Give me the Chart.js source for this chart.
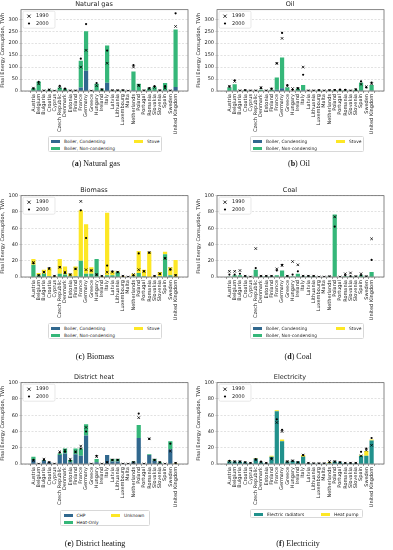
<!DOCTYPE html>
<html>
<head>
<meta charset="utf-8">
<script src="https://cdn.jsdelivr.net/npm/chart.js@4.4.0/dist/chart.umd.min.js"></script>
<style>
body { margin: 0; background: #fff; width: 393px; height: 550px; position: relative; overflow: hidden; font-family: "DejaVu Sans", sans-serif; }
.panel { position: absolute; width: 196px; height: 140px; }
.leg { position: absolute; border: 0.6px solid #d8d8d8; border-radius: 1.5px; background: #fff; box-sizing: border-box; }
.leg .sw { position: absolute; width: 9px; height: 3px; }
.leg .tx { position: absolute; font-size: 4.4px; line-height: 5px; color: #222; white-space: nowrap; }
.cap { position: absolute; font-family: "Liberation Serif", serif; font-size: 8px; color: #111; transform: translate(-50%, -50%); white-space: nowrap; }
</style>
</head>
<body>
<script>
const countries = ['Austria', 'Belgium', 'Bulgaria', 'Croatia', 'Cyprus', 'Czech Republic', 'Denmark', 'Estonia',
  'Finland', 'France', 'Germany', 'Greece', 'Hungary', 'Ireland', 'Italy', 'Latvia', 'Lithuania', 'Luxembourg',
  'Malta', 'Netherlands', 'Poland', 'Portugal', 'Romania', 'Slovakia', 'Slovenia', 'Spain', 'Sweden', 'United Kingdom'];

// Natural gas
const gasCond    = [1, 3, 0, 0, 0, 1, 1, 0, 0, 15, 85, 0, 2, 0, 35, 0, 0, 1, 0, 3, 1, 0, 0, 1, 0, 2, 0, 17];
const gasNonCond = [11, 37, 1, 5, 0, 14, 7, 1, 1, 112, 165, 1, 28, 7, 155, 2, 2, 2, 0, 79, 29, 2, 12, 17, 2, 31, 1, 240];
const gasStove   = [0, 0, 0, 0, 0, 0, 0, 0, 0, 0, 0, 0, 0, 0, 0, 0, 0, 0, 0, 0, 0, 0, 0, 0, 0, 0, 0, 0];
const gas1990    = [12, 30, 1, 5, 0, 15, 6, 1, 1, 100, 170, 0, 22, 5, 116, 2, 2, 2, 0, 100, 22, 1, 10, 15, 2, 12, 1, 270];
const gas2000    = [10, 38, 1, 5, 0, 22, 10, 1, 1, 135, 280, 0, 33, 7, 169, 2, 2, 3, 0, 108, 25, 2, 12, 20, 2, 20, 1, 325];

// Oil
const oilCond    = [1, 2, 0, 0, 0, 0, 0, 0, 0, 5, 12, 1, 0, 0, 3, 0, 0, 0, 0, 0, 0, 0, 0, 0, 0, 2, 0, 2];
const oilNonCond = [14, 26, 1, 3, 1, 1, 5, 1, 5, 51, 128, 14, 1, 10, 22, 1, 1, 3, 1, 2, 3, 3, 3, 1, 5, 33, 1, 23];
const oilStove   = [0, 0, 0, 0, 0, 0, 0, 0, 0, 0, 0, 0, 0, 0, 0, 0, 0, 0, 0, 0, 0, 0, 0, 0, 0, 0, 0, 0];
const oil1990    = [20, 40, 1, 3, 1, 1, 15, 1, 8, 115, 220, 20, 10, 10, 100, 1, 1, 3, 1, 2, 3, 3, 3, 1, 5, 28, 18, 30];
const oil2000    = [18, 45, 1, 3, 1, 1, 12, 1, 10, 116, 243, 25, 5, 12, 68, 1, 1, 3, 1, 3, 4, 6, 5, 1, 7, 40, 15, 35];

// Biomass
const bioCond    = [0, 0, 0, 0, 0, 0, 0, 0, 0, 0, 0, 0, 0, 0, 0, 0, 0, 0, 0, 0, 0, 0, 0, 0, 0, 0, 0, 0];
const bioNonCond = [15, 2, 4, 1, 0, 4, 3, 1, 1, 20, 4, 4, 22, 0, 2, 2, 6, 0, 0, 1, 5, 1, 0, 0, 1, 28, 2, 0];
const bioStove   = [7, 3, 5, 10, 1, 18, 10, 3, 12, 62, 61, 8, 0, 1, 77, 5, 1, 1, 0, 3, 27, 8, 31, 1, 5, 3, 10, 21];
const bio1990    = [18, 2, 6, 10, 1, 12, 6, 3, 10, 93, 9, 8, 3, 1, 6, 6, 6, 1, 0, 3, 9, 7, 30, 1, 4, 23, 10, 2];
const bio2000    = [17, 2, 6, 11, 1, 12, 5, 3, 10, 82, 48, 8, 3, 1, 14, 7, 6, 1, 0, 2, 29, 7, 30, 1, 4, 23, 9, 2];

// Coal
const coalCond    = [0, 0, 0, 0, 0, 0, 0, 0, 0, 0, 0, 0, 0, 0, 0, 0, 0, 0, 0, 0, 0, 0, 0, 0, 0, 0, 0, 0];
const coalNonCond = [0.5, 2, 2, 1, 0, 9, 1, 1, 1, 2, 8, 1, 1, 4, 1, 1, 1, 0.3, 0, 0.5, 77, 0.3, 1, 1, 0.5, 2, 0.5, 6];
const coalStove   = [0, 0, 0, 0, 0, 0, 0, 0, 0, 0, 0, 0, 0, 0, 0, 0, 0, 0, 0, 0, 0, 0, 0, 0, 0, 0, 0, 0];
const coal1990    = [7, 7, 8, 1, 0, 35, 1, 1, 1, 10, 14, 1, 19, 15, 1, 1, 1, 0, 0, 0.5, 74, 0, 4, 5, 0.5, 4, 0.5, 47];
const coal2000    = [3, 3, 4, 1, 0, 11, 1, 1, 1, 8, 15, 1, 3, 7, 1, 1, 1, 0, 0, 0.5, 62, 0, 2, 1, 0.5, 2, 0.5, 21];

// District heat
const dhChp      = [5, 0.3, 4, 2, 0, 11, 13, 2, 12, 10, 35, 0.5, 2, 0, 11, 3, 3, 0.5, 0, 2, 32, 0.5, 11, 4, 1, 0, 18, 0];
const dhHeatOnly = [4, 0, 1, 0, 0, 2, 6, 3, 7, 9, 14, 0, 4, 0, 0, 3, 3, 0, 0, 1, 16, 0, 1, 2, 1, 0, 10, 0];
const dhUnknown  = [0, 0, 0, 0, 0, 0, 0, 0, 0, 0, 0, 0, 0, 0, 0, 0, 0, 0, 0, 0, 0, 0, 0, 0, 0, 0, 0, 1];
const dh1990     = [4, 0, 6, 2, 0, 15, 17, 6, 15, 22, 45, 0, 9, 0, 2, 5, 5, 0, 0, 2, 57, 0, 31, 5, 2, 0, 16, 1];
const dh2000     = [5, 0, 5, 2, 0, 14, 15, 4, 15, 19, 40, 0, 10, 0, 2, 5, 5, 0, 0, 2, 62, 0, 31, 5, 2, 0, 25, 1];

// Electricity
const elRad  = [3.5, 3, 3, 2, 1, 6.5, 2, 1, 9, 65, 28, 3, 4, 3, 9, 1, 0.5, 0.5, 0.5, 1, 3, 2, 1, 1, 1, 10, 10, 29];
const elHp   = [0.5, 0, 0, 0, 0, 0.5, 0.3, 0, 1, 1, 2, 0.5, 0, 0, 2, 0, 0, 0, 0, 1, 0, 0, 0, 0, 0, 1, 6, 1];
const el1990 = [3, 3, 3, 2, 1, 5, 2, 1, 6, 51, 40, 3, 4, 2, 11, 1, 0.5, 0.5, 0.5, 3, 3, 2, 1, 1, 1, 10, 17, 23];
const el2000 = [4, 3, 3, 2, 1, 6, 3, 1, 7, 55, 42, 3, 4, 2, 11, 1, 0.5, 0.5, 0.5, 2, 3, 2, 1, 1, 1, 15, 19, 32];

const BLUE = '#31688e', GREEN = '#35b779', YELLOW = '#fde725', TEAL = '#21918c';
const boilerSeries = ['Boiler, Condensing', 'Boiler, Non-condensing', 'Stove'];

Chart.defaults.font.family = '"DejaVu Sans", sans-serif';
Chart.defaults.color = '#222';

// box around the plot, like matplotlib spines
const framePlugin = {
  id: 'frame',
  afterDatasetsDraw(chart) {
    const { ctx, chartArea: a } = chart;
    ctx.save();
    ctx.strokeStyle = '#555';
    ctx.lineWidth = 0.7;
    ctx.strokeRect(a.left, a.top, a.right - a.left, a.bottom - a.top);
    ctx.restore();
  }
};

// in-plot legend for the 1990 / 2000 markers
const markerLegend = {
  id: 'markerLegend',
  afterDraw(chart) {
    const { ctx, chartArea: a } = chart;
    const x = a.left + 2, y = a.top + 1.5;
    ctx.save();
    ctx.fillStyle = 'rgba(255,255,255,0.9)';
    ctx.strokeStyle = '#d8d8d8';
    ctx.lineWidth = 0.6;
    ctx.beginPath();
    ctx.roundRect(x, y, 32, 17, 1.5);
    ctx.fill();
    ctx.stroke();
    ctx.strokeStyle = '#000';
    ctx.lineWidth = 0.8;
    const cx = x + 6, r = 1.6;
    ctx.beginPath();
    ctx.moveTo(cx - r, y + 5 - r); ctx.lineTo(cx + r, y + 5 + r);
    ctx.moveTo(cx + r, y + 5 - r); ctx.lineTo(cx - r, y + 5 + r);
    ctx.stroke();
    ctx.fillStyle = '#000';
    ctx.beginPath();
    ctx.arc(cx, y + 12.3, 1.1, 0, 2 * Math.PI);
    ctx.fill();
    ctx.font = '5px "DejaVu Sans"';
    ctx.fillStyle = '#222';
    ctx.textBaseline = 'middle';
    ctx.fillText('1990', x + 13, y + 5);
    ctx.fillText('2000', x + 13, y + 12.3);
    ctx.restore();
  }
};

function toXY(arr) {
  return arr.map((v, i) => ({ x: i, y: v }));
}

function makePanel(left, top, title, yMax, yStep, bars, m1990, m2000) {
  const div = document.createElement('div');
  div.className = 'panel';
  div.style.left = left + 'px';
  div.style.top = top + 'px';
  const canvas = document.createElement('canvas');
  canvas.width = 196;
  canvas.height = 140;
  div.appendChild(canvas);
  document.body.appendChild(div);

  const datasets = bars.map(b => ({
    type: 'bar',
    label: b.label,
    data: toXY(b.data),
    backgroundColor: b.color,
    stack: 'bars',
    order: 2,
    barPercentage: 0.8,
    categoryPercentage: 1
  }));
  datasets.push({
    type: 'line', label: '1990', data: toXY(m1990), showLine: false, stack: 'm1990', order: 0,
    pointStyle: 'crossRot', pointRadius: 1.8, borderColor: '#000', borderWidth: 0.8, backgroundColor: '#000'
  });
  datasets.push({
    type: 'line', label: '2000', data: toXY(m2000), showLine: false, stack: 'm2000', order: 0,
    pointStyle: 'circle', pointRadius: 1.1, borderWidth: 0, backgroundColor: '#000'
  });

  new Chart(canvas, {
    data: { datasets },
    plugins: [framePlugin, markerLegend],
    options: {
      responsive: false,
      animation: false,
      layout: { padding: { left: 0, right: 8, top: 0, bottom: 0 } },
      scales: {
        x: {
          type: 'linear',
          min: -1.79,
          max: 28.79,
          stacked: true,
          afterBuildTicks: s => { s.ticks = countries.map((c, i) => ({ value: i })); },
          afterFit: s => { s.height = 49; },
          grid: { drawOnChartArea: false, drawTicks: true, tickLength: 2, color: '#555', lineWidth: 0.6 },
          border: { display: false },
          ticks: {
            autoSkip: false, minRotation: 90, maxRotation: 90, padding: 1,
            font: { size: 5 },
            callback: v => countries[v]
          }
        },
        y: {
          min: 0,
          max: yMax,
          stacked: true,
          afterFit: s => { s.width = 21; },
          grid: { color: '#cfcfcf', lineWidth: 0.6, drawTicks: true, tickLength: 2 },
          border: { display: false, dash: [2, 1.5] },
          ticks: { stepSize: yStep, includeBounds: false, padding: 1, font: { size: 5 } },
          title: { display: true, text: 'Final Energy Consuption, TWh', font: { size: 5 }, padding: { top: 0, bottom: 1 } }
        }
      },
      plugins: {
        legend: { display: false },
        tooltip: { enabled: false },
        title: { display: true, text: title, font: { size: 6.5, weight: 'normal' }, color: '#222', padding: { top: 0.4, bottom: 1.5 } }
      }
    }
  });
}

function makeLegend(left, top, w, h, items) {
  const box = document.createElement('div');
  box.className = 'leg';
  Object.assign(box.style, { left: left + 'px', top: top + 'px', width: w + 'px', height: h + 'px' });
  items.forEach(([label, color, x, y]) => {
    const sw = document.createElement('div');
    sw.className = 'sw';
    Object.assign(sw.style, { left: x + 'px', top: (y - 1.5) + 'px', background: color });
    const tx = document.createElement('div');
    tx.className = 'tx';
    tx.textContent = label;
    Object.assign(tx.style, { left: (x + 13) + 'px', top: (y - 2.5) + 'px' });
    box.appendChild(sw);
    box.appendChild(tx);
  });
  document.body.appendChild(box);
}

function makeCaption(cx, cy, letter, text) {
  const c = document.createElement('div');
  c.className = 'cap';
  c.innerHTML = '(<b>' + letter + '</b>) ' + text;
  c.style.left = cx + 'px';
  c.style.top = cy + 'px';
  document.body.appendChild(c);
}

const boilerBars = (c, n, s) => [
  { label: boilerSeries[0], data: c, color: BLUE },
  { label: boilerSeries[1], data: n, color: GREEN },
  { label: boilerSeries[2], data: s, color: YELLOW }
];

makePanel(0, 0, 'Natural gas', 340, 50, boilerBars(gasCond, gasNonCond, gasStove), gas1990, gas2000);
makePanel(196, 0, 'Oil', 340, 50, boilerBars(oilCond, oilNonCond, oilStove), oil1990, oil2000);
makePanel(0, 186.3, 'Biomass', 100, 20, boilerBars(bioCond, bioNonCond, bioStove), bio1990, bio2000);
makePanel(196, 186.3, 'Coal', 100, 20, boilerBars(coalCond, coalNonCond, coalStove), coal1990, coal2000);
makePanel(0, 373.3, 'District heat', 100, 20, [
  { label: 'CHP', data: dhChp, color: BLUE },
  { label: 'Heat-Only', data: dhHeatOnly, color: GREEN },
  { label: 'Unknown', data: dhUnknown, color: YELLOW }
], dh1990, dh2000);
makePanel(196, 373.3, 'Electricity', 100, 20, [
  { label: 'Electric radiators', data: elRad, color: TEAL },
  { label: 'Heat pump', data: elHp, color: YELLOW }
], el1990, el2000);

const boilerLegend = [
  [boilerSeries[0], BLUE, 2, 4], [boilerSeries[1], GREEN, 2, 11.5], [boilerSeries[2], YELLOW, 85, 4]
];
makeLegend(48, 136, 114, 16, boilerLegend);
makeLegend(250, 136, 114, 16, boilerLegend);
makeLegend(48, 323, 114, 16, boilerLegend);
makeLegend(250, 323, 114, 16, boilerLegend);
makeLegend(60, 510, 90, 15.5, [['CHP', BLUE, 2.5, 4], ['Heat-Only', GREEN, 2.5, 11], ['Unknown', YELLOW, 50, 4]]);
makeLegend(250, 509, 113, 9, [['Electric radiators', TEAL, 3, 4.3], ['Heat pump', YELLOW, 70, 4.3]]);

makeCaption(96, 163, 'a', 'Natural gas');
makeCaption(299, 163, 'b', 'Oil');
makeCaption(95, 356, 'c', 'Biomass');
makeCaption(298, 356, 'd', 'Coal');
makeCaption(95, 543, 'e', 'District heating');
makeCaption(298, 543, 'f', 'Electricity');
</script>
</body>
</html>
